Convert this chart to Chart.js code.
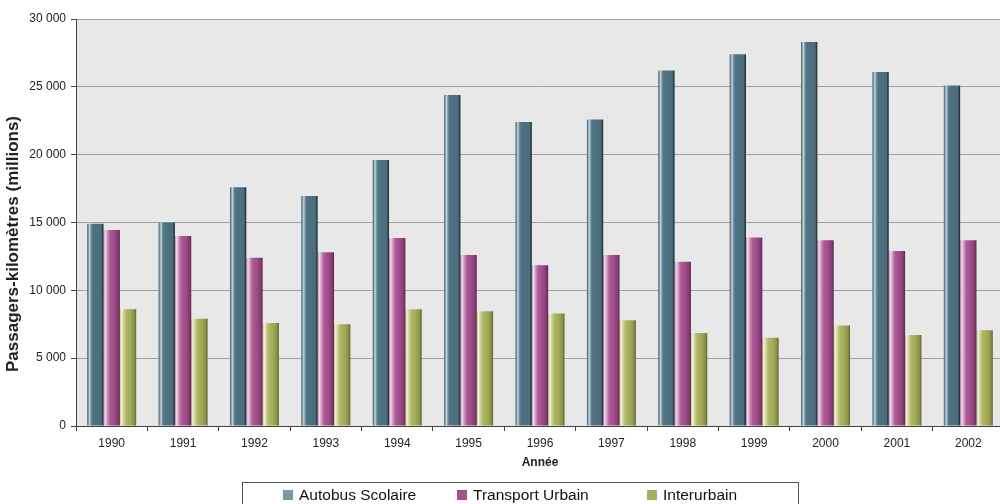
<!DOCTYPE html>
<html lang="fr">
<head>
<meta charset="utf-8">
<title>Passagers-kilomètres par année</title>
<script src="https://cdn.jsdelivr.net/npm/chart.js@4.4.1/dist/chart.umd.min.js"></script>
<style>
    html, body { margin: 0; padding: 0; background: #fff; overflow: hidden; width: 1000px; height: 504px; }
    #wrap { position: relative; width: 1004px; height: 516px; }
</style>
</head>
<body>
<div id="wrap"><canvas id="busChart" width="1004" height="516"></canvas></div>
<script>
    // annees et valeurs (millions de passagers-kilometres)
    var categories = ['1990', '1991', '1992', '1993', '1994', '1995', '1996', '1997', '1998', '1999', '2000', '2001', '2002'];
    var autobusScolaire = [14900, 15000, 17600, 16950, 19600, 24400, 22400, 22600, 26200, 27400, 28300, 26100, 25100];
    var transportUrbain = [14450, 14000, 12400, 12800, 13850, 12600, 11850, 12600, 12100, 13900, 13700, 12900, 13700];
    var interurbain = [8600, 7900, 7600, 7500, 8600, 8450, 8300, 7800, 6850, 6500, 7400, 6700, 7050];
    var seriesNames = ['Autobus Scolaire', 'Transport Urbain', 'Interurbain'];
    var yMax = 30000;
    var yStep = 5000;

    var FONT = "'Liberation Sans', Arial, sans-serif";
    var CAT_PCT = 0.686;
    var Y_TITLE = 'Passagers-kilomètres (millions)';

    // couleurs "cylindre" : reflet a gauche, ombre a droite
    var blueStops = [[0, '#3c5b69'], [0.07, '#7896a3'], [0.15, '#c9d6dc'], [0.24, '#6e8d9a'], [0.34, '#4f7383'], [0.86, '#4b6d7c'], [0.93, '#2d434d'], [1, '#1f3039']];
    var pinkStops = [[0, '#b878a8'], [0.1, '#f3dcec'], [0.2, '#d9a6c9'], [0.38, '#ad5c98'], [0.65, '#9f4d89'], [0.88, '#863c73'], [1, '#5a244c']];
    var greenStops = [[0, '#b9be7c'], [0.1, '#f4f4d6'], [0.2, '#d5d8a0'], [0.38, '#aeb566'], [0.65, '#a2aa58'], [0.88, '#899145'], [1, '#5b622e']];
    var legendColors = ['#7a98a6', '#a8508f', '#a6ae5c'];

    var barFill = function(stops) {
        return function(ctx) {
            var chart = ctx.chart;
            var xs = chart.scales.x;
            var flat = stops[4][1];
            if (!xs || ctx.dataIndex === undefined) {
                return flat;
            }
            var catW = xs.width / categories.length;
            var barW = catW * CAT_PCT / 3;
            var center = xs.getPixelForValue(ctx.dataIndex);
            var left = center - 1.5 * barW + ctx.datasetIndex * barW;
            if (!isFinite(left) || !isFinite(barW) || barW <= 0) {
                return flat;
            }
            var g = chart.ctx.createLinearGradient(left, 0, left + barW, 0);
            stops.forEach(function(s) { g.addColorStop(s[0], s[1]); });
            return g;
        };
    };

    var fmt = function(v) {
        return String(v).replace(/\B(?=(\d{3})+(?!\d))/g, ' ');
    };

    // fond gris de la zone de trace
    var plotBg = {
        id: 'plotBg',
        beforeDraw: function(chart) {
            var a = chart.chartArea;
            var c = chart.ctx;
            c.save();
            c.fillStyle = '#e8e8e8';
            c.fillRect(a.left, a.top, a.right - a.left, a.bottom - a.top);
            c.restore();
        }
    };

    // titre vertical de l'axe y (un peu sous le milieu)
    var yTitle = {
        id: 'yTitle',
        afterDraw: function(chart) {
            var c = chart.ctx;
            c.save();
            c.translate(13, 244);
            c.rotate(-Math.PI / 2);
            c.font = 'bold 17px ' + FONT;
            c.fillStyle = '#222';
            c.textAlign = 'center';
            c.textBaseline = 'middle';
            c.fillText(Y_TITLE, 0, 0);
            c.restore();
        }
    };

    // legende encadree sous le graphique
    var boxLegend = {
        id: 'boxLegend',
        afterDraw: function(chart) {
            var c = chart.ctx;
            var items = [283, 457, 647];
            c.save();
            c.strokeStyle = '#555';
            c.lineWidth = 1;
            c.strokeRect(242.5, 482.5, 556, 25);
            c.font = '15.5px ' + FONT;
            c.textBaseline = 'alphabetic';
            seriesNames.forEach(function(name, i) {
                c.fillStyle = legendColors[i];
                c.fillRect(items[i], 490, 10, 10);
                c.fillStyle = '#111';
                c.fillText(name, items[i] + 16, 499.5);
            });
            c.restore();
        }
    };

    var busChart = function() {
        var el = document.getElementById('busChart').getContext('2d');
        new Chart(el, {
            type: 'bar',
            data: {
                labels: categories,
                datasets: [{
                    label: seriesNames[0],
                    data: autobusScolaire,
                    backgroundColor: barFill(blueStops)
                }, {
                    label: seriesNames[1],
                    data: transportUrbain,
                    backgroundColor: barFill(pinkStops)
                }, {
                    label: seriesNames[2],
                    data: interurbain,
                    backgroundColor: barFill(greenStops)
                }]
            },
            options: {
                responsive: false,
                animation: false,
                categoryPercentage: CAT_PCT,
                barPercentage: 1,
                layout: {
                    padding: { top: 19, left: 0, right: 0, bottom: 44 }
                },
                plugins: {
                    legend: { display: false },
                    tooltip: { enabled: false }
                },
                scales: {
                    x: {
                        afterFit: function(scale) { scale.height = 46; },
                        grid: {
                            drawOnChartArea: false,
                            tickLength: 5,
                            tickColor: '#404040',
                            offset: true
                        },
                        border: { color: '#404040', width: 1 },
                        ticks: {
                            padding: 5,
                            color: '#222',
                            font: { family: FONT, size: 12 }
                        },
                        title: {
                            display: true,
                            text: 'Année',
                            color: '#222',
                            padding: { top: 0, bottom: 2 },
                            font: { family: FONT, size: 12, weight: 'bold' }
                        }
                    },
                    y: {
                        min: 0,
                        max: yMax,
                        afterFit: function(scale) { scale.width = 76; },
                        grid: {
                            color: '#a0a0a0',
                            lineWidth: 1,
                            tickLength: 5,
                            tickColor: '#404040'
                        },
                        border: { color: '#404040', width: 1 },
                        ticks: {
                            stepSize: yStep,
                            padding: 5,
                            color: '#222',
                            font: { family: FONT, size: 12 },
                            callback: function(v) { return fmt(v); }
                        },
                        title: { display: false }
                    }
                }
            },
            plugins: [plotBg, yTitle, boxLegend]
        });
    };

    busChart();
</script>
</body>
</html>
